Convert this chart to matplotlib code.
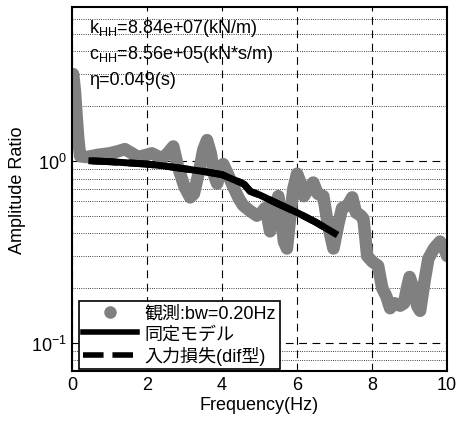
import matplotlib.pyplot as plt
from matplotlib.lines import Line2D

plt.rcParams['font.family'] = ['Liberation Sans', 'Noto Sans CJK JP']
plt.rcParams['mathtext.fontset'] = 'custom'
plt.rcParams['mathtext.rm'] = 'Liberation Sans'

# observed amplitude ratio (bw=0.20Hz)
freq_obs = [0.03, 0.08, 0.12, 0.17, 0.22, 0.4, 0.7, 1.0, 1.23, 1.41, 1.6, 1.76,
            2.0, 2.13, 2.4, 2.55, 2.7, 2.83, 3.0, 3.15, 3.25, 3.4, 3.5, 3.6,
            3.7, 3.8, 3.87, 3.95, 4.03, 4.15, 4.3, 4.45, 4.56, 4.75, 4.93, 5.05,
            5.15, 5.22, 5.28, 5.38, 5.5, 5.58, 5.65, 5.73, 5.82, 5.9, 6.0, 6.1,
            6.18, 6.3, 6.43, 6.55, 6.7, 6.82, 6.97, 7.1, 7.2, 7.35, 7.47, 7.57,
            7.7, 7.77, 7.87, 8.0, 8.16, 8.27, 8.38, 8.48, 8.6, 8.75, 8.85, 8.93,
            9.0, 9.1, 9.2, 9.28, 9.4, 9.5, 9.65, 9.81, 9.9, 10.0]
amp_obs = [3.0, 2.4, 1.8, 1.3, 1.06, 1.05, 1.08, 1.1, 1.13, 1.16, 1.1, 1.05,
           1.08, 1.1, 1.03, 1.1, 1.2, 0.92, 0.72, 0.63, 0.66, 0.9, 1.15, 1.3,
           1.1, 0.82, 0.75, 0.88, 0.96, 0.85, 0.72, 0.62, 0.57, 0.53, 0.5, 0.52,
           0.55, 0.48, 0.41, 0.52, 0.64, 0.5, 0.36, 0.33, 0.5, 0.7, 0.85, 0.75,
           0.64, 0.7, 0.76, 0.66, 0.64, 0.45, 0.33, 0.45, 0.55, 0.57, 0.63, 0.52,
           0.5, 0.48, 0.3, 0.28, 0.265, 0.2, 0.18, 0.155, 0.165, 0.16, 0.165, 0.2,
           0.23, 0.2, 0.16, 0.15, 0.22, 0.29, 0.33, 0.36, 0.34, 0.30]

# identified model
freq_mod = [0.53, 1.0, 1.5, 2.0, 2.5, 3.0, 3.5, 4.0, 4.3, 4.5, 4.6, 4.75,
            5.0, 5.5, 6.0, 6.5, 7.0]
amp_mod = [1.0, 0.99, 0.975, 0.96, 0.935, 0.905, 0.875, 0.84, 0.79, 0.76, 0.74,
           0.68, 0.65, 0.58, 0.52, 0.46, 0.40]
# input loss (dif) - lies under the model curve
amp_dif = amp_mod

fig = plt.figure(figsize=(4.6, 4.27), dpi=100)
ax = fig.add_axes([0.1565, 0.1288, 0.8155, 0.8522])

ax.plot(freq_obs, amp_obs, color='#808080', lw=9, solid_joinstyle='round',
        solid_capstyle='round', zorder=2)
ax.plot(freq_mod, amp_dif, color='black', lw=5, ls='--', zorder=3)
ax.plot(freq_mod, amp_mod, color='black', lw=5, zorder=4)

ax.set_yscale('log')
ax.set_xlim(0, 10)
ax.set_ylim(0.07, 7)
ax.set_xticks([0, 2, 4, 6, 8, 10])
ax.grid(True, which='major', axis='both', color='black', ls=(0, (7, 5)), lw=0.8)
ax.grid(True, which='minor', axis='y', color='black', ls=':', lw=0.6)
ax.tick_params(which='both', direction='in', labelsize=13, length=0)
for s in ax.spines.values():
    s.set_linewidth(1.5)

ax.set_xlabel('Frequency(Hz)', fontsize=13, labelpad=2)
ax.set_ylabel('Amplitude Ratio', fontsize=13, labelpad=4)

ax.text(0.045, 0.945, r'k$_{\mathrm{HH}}$=8.84e+07(kN/m)', transform=ax.transAxes,
        fontsize=13, va='center')
ax.text(0.045, 0.872, r'c$_{\mathrm{HH}}$=8.56e+05(kN*s/m)', transform=ax.transAxes,
        fontsize=13, va='center')
ax.text(0.045, 0.80, 'η=0.049(s)', transform=ax.transAxes, fontsize=13, va='center')

handles = [
    Line2D([], [], color='#808080', marker='o', ls='none', ms=8),
    Line2D([], [], color='black', lw=4),
    Line2D([], [], color='black', lw=4, ls='--'),
]
labels = ['観測:bw=0.20Hz', '同定モデル', '入力損失(dif型)']
leg = ax.legend(handles, labels, loc='lower left', bbox_to_anchor=(0.02, 0.006),
                borderaxespad=0, fontsize=13, fancybox=False, framealpha=1,
                edgecolor='black', handlelength=3, labelspacing=0.2,
                handletextpad=0.4, borderpad=0.2)
leg.get_frame().set_linewidth(1.2)

fig.savefig('out.png', dpi=100)
